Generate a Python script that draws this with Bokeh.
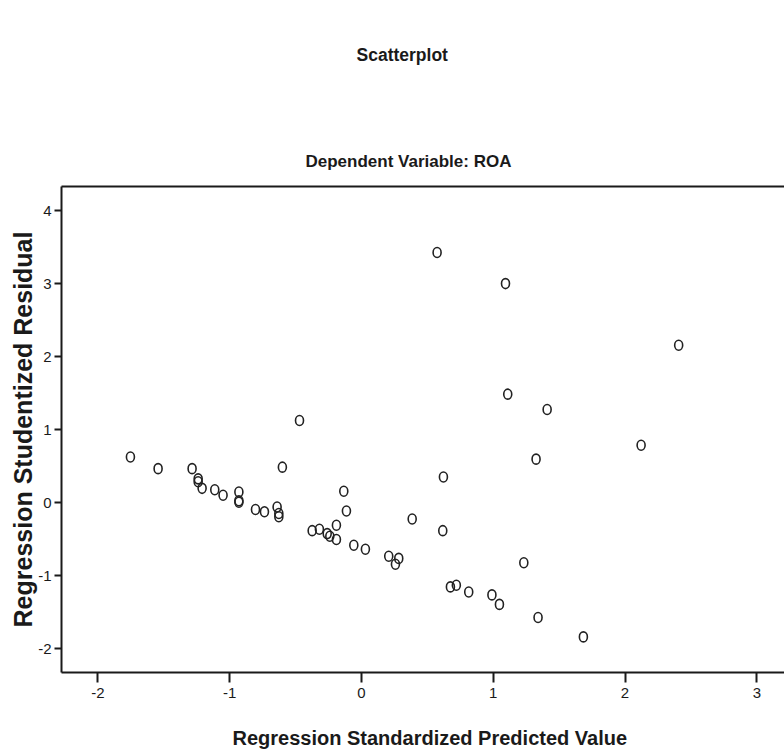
from bokeh.plotting import figure
from bokeh.models import Range1d, FixedTicker, LinearAxis, Title
from bokeh.embed import file_html
from bokeh.resources import INLINE

# Regression Standardized Predicted Value
pred = [-1.753, -1.543, -1.285, -1.239, -1.239, -1.209, -1.113, -1.050,
        -0.930, -0.930, -0.930, -0.804, -0.736, -0.640, -0.627, -0.627,
        -0.600, -0.470, -0.374, -0.319, -0.260, -0.240, -0.190, -0.190,
        -0.134, -0.114, -0.058, 0.030, 0.207, 0.283, 0.258, 0.385,
        0.574, 0.622, 0.617, 0.675, 0.720, 0.814, 0.990, 1.047,
        1.093, 1.110, 1.232, 1.325, 1.340, 1.409, 1.684, 2.122, 2.407]
# Regression Studentized Residual
resid = [0.63, 0.47, 0.47, 0.33, 0.29, 0.20, 0.18, 0.105,
         0.15, 0.03, 0.01, -0.09, -0.12, -0.055, -0.145, -0.19,
         0.49, 1.13, -0.38, -0.36, -0.42, -0.456, -0.305, -0.50,
         0.16, -0.11, -0.58, -0.634, -0.73, -0.76, -0.84, -0.22,
         3.43, 0.356, -0.38, -1.15, -1.127, -1.22, -1.26, -1.39,
         3.005, 1.49, -0.82, 0.60, -1.57, 1.28, -1.835, 0.79, 2.16]

x_ticks = [-2, -1, 0, 1, 2, 3]
x_tick_labels = ["-2", "-1", "0", "1", "2", "3"]
y_ticks = [-2, -1, 0, 1, 2, 3, 4]
y_tick_labels = ["-2", "-1", "0", "1", "2", "3", "4"]

title_text = "Scatterplot"
subtitle_text = "Dependent Variable: ROA"
x_label = "Regression Standardized Predicted Value"
y_label = "Regression Studentized Residual"

FONT = "Liberation Sans"
INK = "#1a1a1a"


def spacer(size):
    # blank title used only to reserve room in a side panel
    return Title(text=" ", text_font=FONT, text_font_size="2px",
                 text_color="white", standoff=size)


p = figure(width=784, height=749, output_backend="svg", toolbar_location=None,
           x_range=Range1d(-2.276, 3.21), y_range=Range1d(-2.323, 4.335),
           min_border_left=61, min_border_right=0, min_border_top=186,
           min_border_bottom=77)
p.outline_line_color = None
p.grid.visible = False
p.background_fill_color = "white"
p.border_fill_color = "white"

for ax in (p.xaxis[0], p.yaxis[0]):
    ax.axis_line_width = 2
    ax.axis_line_color = INK
    ax.major_tick_line_width = 2
    ax.major_tick_line_color = INK
    ax.major_tick_in = 0
    ax.minor_tick_line_color = None
    ax.major_label_text_font = FONT
    ax.major_label_text_font_size = "15px"
    ax.major_label_text_color = INK

p.xaxis[0].ticker = FixedTicker(ticks=x_ticks)
p.xaxis[0].major_label_overrides = dict(zip(x_ticks, x_tick_labels))
p.xaxis[0].major_tick_out = 10
p.xaxis[0].major_label_standoff = 5

p.yaxis[0].ticker = FixedTicker(ticks=y_ticks)
p.yaxis[0].major_label_overrides = dict(zip(y_ticks, y_tick_labels))
p.yaxis[0].major_tick_out = 7
p.yaxis[0].major_label_standoff = 3
p.yaxis[0].axis_label = y_label
p.yaxis[0].axis_label_text_font = FONT
p.yaxis[0].axis_label_text_font_size = "25px"
p.yaxis[0].axis_label_text_font_style = "bold"
p.yaxis[0].axis_label_text_color = INK
p.yaxis[0].axis_label_standoff = -2

top = LinearAxis(ticker=FixedTicker(ticks=[]), axis_line_width=2, axis_line_color=INK,
                 major_tick_line_color=None, minor_tick_line_color=None,
                 major_tick_out=0, major_tick_in=0, minor_tick_out=0,
                 major_label_standoff=0, major_label_text_font_size="0px")
p.add_layout(top, "above")
p.add_layout(Title(text=subtitle_text, text_font=FONT, text_font_size="17px",
                   text_font_style="bold", text_color=INK, align="left",
                   offset=244, standoff=32), "above")
p.add_layout(spacer(65), "above")
p.add_layout(Title(text=title_text, text_font=FONT, text_font_size="17.5px",
                   text_font_style="bold", text_color=INK, align="left",
                   offset=295, standoff=0), "above")

p.add_layout(spacer(20), "below")
p.add_layout(Title(text=x_label, text_font=FONT, text_font_size="20px",
                   text_font_style="bold", text_color=INK, align="left",
                   offset=171, standoff=0), "below")

p.ellipse(x=pred, y=resid, width=8, height=10, width_units="screen",
          height_units="screen", fill_color=None, line_color="#222222",
          line_width=1.6)

open("out.html", "w").write(file_html(p, INLINE))
